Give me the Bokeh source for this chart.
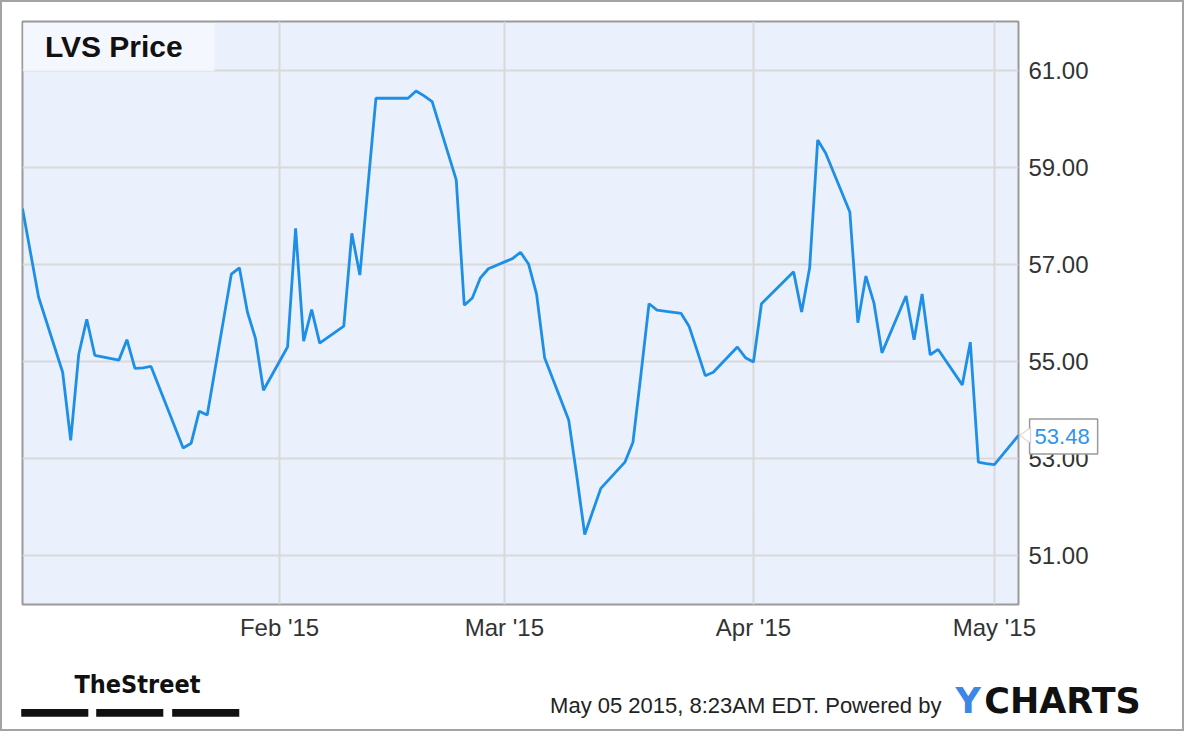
import pandas as pd
from bokeh.plotting import figure
from bokeh.models import (FixedTicker, NumeralTickFormatter, DatetimeTickFormatter,
                          Range1d, Label, BoxAnnotation, PolyAnnotation, GridBox)
from bokeh.embed import file_html
from bokeh.resources import INLINE

# ---------------- data ----------------
dates = [
    "2014-12-31", "2015-01-02", "2015-01-05", "2015-01-06", "2015-01-07", "2015-01-08",
    "2015-01-09", "2015-01-12", "2015-01-13", "2015-01-14", "2015-01-15", "2015-01-16",
    "2015-01-20", "2015-01-21", "2015-01-22", "2015-01-23", "2015-01-26", "2015-01-27",
    "2015-01-28", "2015-01-29", "2015-01-30", "2015-02-02", "2015-02-03", "2015-02-04",
    "2015-02-05", "2015-02-06", "2015-02-09", "2015-02-10", "2015-02-11", "2015-02-12",
    "2015-02-13", "2015-02-17", "2015-02-18", "2015-02-19", "2015-02-20", "2015-02-23",
    "2015-02-24", "2015-02-25", "2015-02-26", "2015-02-27", "2015-03-02", "2015-03-03",
    "2015-03-04", "2015-03-05", "2015-03-06", "2015-03-09", "2015-03-10", "2015-03-11",
    "2015-03-12", "2015-03-13", "2015-03-16", "2015-03-17", "2015-03-18", "2015-03-19",
    "2015-03-20", "2015-03-23", "2015-03-24", "2015-03-25", "2015-03-26", "2015-03-27",
    "2015-03-30", "2015-03-31", "2015-04-01", "2015-04-02", "2015-04-06", "2015-04-07",
    "2015-04-08", "2015-04-09", "2015-04-10", "2015-04-13", "2015-04-14", "2015-04-15",
    "2015-04-16", "2015-04-17", "2015-04-20", "2015-04-21", "2015-04-22", "2015-04-23",
    "2015-04-24", "2015-04-27", "2015-04-28", "2015-04-29", "2015-04-30", "2015-05-01",
    "2015-05-04",
]
prices = [
    58.15, 56.33, 54.78, 53.38, 55.15, 55.87,
    55.13, 55.03, 55.45, 54.86, 54.87, 54.90,
    53.22, 53.32, 53.98, 53.90, 56.80, 56.93,
    56.02, 55.48, 54.41, 55.30, 57.74, 55.42,
    56.07, 55.38, 55.73, 57.64, 56.78, 58.60,
    60.42, 60.42, 60.57, 60.47, 60.35, 58.74,
    56.16, 56.31, 56.72, 56.91, 57.12, 57.25,
    57.01, 56.39, 55.08, 53.80, 52.65, 51.44,
    51.92, 52.39, 52.93, 53.34, 54.74, 56.19,
    56.06, 55.99, 55.72, 55.22, 54.71, 54.78,
    55.30, 55.08, 54.99, 56.19, 56.85, 56.02,
    56.93, 59.56, 59.29, 58.08, 55.80, 56.76,
    56.21, 55.18, 56.35, 55.45, 56.39, 55.14,
    55.25, 54.52, 55.40, 52.93, 52.90, 52.88,
    53.48,
]
x_tick_dates = ["2015-02-01", "2015-03-01", "2015-04-01", "2015-05-01"]
x_tick_labels = ["Feb '15", "Mar '15", "Apr '15", "May '15"]
y_ticks = [51, 53, 55, 57, 59, 61]
y_lo, y_hi = 50, 62

title_text = "LVS Price"
footer_text = "May 05 2015, 8:23AM EDT.  Powered by"
brand_a, brand_b = "Y", "CHARTS"
logo_text = "TheStreet"

W, H = 1184, 731
TXT = "Liberation Sans"

# ---------------- main chart ----------------
dt = pd.to_datetime(dates)
p = figure(
    width=W, height=H,
    x_axis_type="datetime", y_axis_location="right",
    x_range=Range1d(dt[0], dt[-1]), y_range=Range1d(y_lo, y_hi),
    output_backend="svg", toolbar_location=None,
    min_border_left=22, min_border_top=21, min_border_right=166, min_border_bottom=127,
)
p.frame_align = False
p.background_fill_color = "#eaf0fc"
p.border_fill_color = "white"
p.outline_line_color = "#9a9a9a"
p.outline_line_width = 2

x_tick_ms = [pd.Timestamp(d).value / 1e6 for d in x_tick_dates]
p.xaxis.ticker = FixedTicker(ticks=x_tick_ms)
p.xaxis.formatter = DatetimeTickFormatter(days="%b '%y", months="%b '%y", years="%b '%y")
p.xaxis.major_label_overrides = {t: l for t, l in zip(x_tick_ms, x_tick_labels)}
p.yaxis.ticker = FixedTicker(ticks=y_ticks)
p.yaxis.formatter = NumeralTickFormatter(format="0.00")
for ax, st in ((p.xaxis, 9), (p.yaxis, 10)):
    ax.axis_line_color = None
    ax.major_tick_line_color = None
    ax.minor_tick_line_color = None
    ax.major_tick_out = 0
    ax.major_label_standoff = st
    ax.major_label_text_font = TXT
    ax.major_label_text_font_size = "24px"
    ax.major_label_text_color = "#333333"

p.xgrid.ticker = FixedTicker(ticks=x_tick_ms)
p.ygrid.ticker = FixedTicker(ticks=y_ticks)
for g in (p.xgrid, p.ygrid):
    g.grid_line_color = "#d9d9d9"
    g.grid_line_width = 2

p.line(dt, prices, line_color="#1e8fe6", line_width=2.8)

# ---------------- overlay for the decorations (reference-pixel space) ----------------
ov = figure(
    width=W, height=H, x_range=Range1d(0, 1200), y_range=Range1d(747, 0),
    output_backend="svg", toolbar_location=None, min_border=0,
    x_axis_location=None, y_axis_location=None,
)
ov.frame_align = False
ov.background_fill_color = None
ov.border_fill_color = None
ov.outline_line_color = "#a3a3a3"
ov.outline_line_width = 3
ov.grid.visible = False

# title box
ov.add_layout(BoxAnnotation(left=23, right=217, top=23, bottom=72,
                            fill_color="#f6f9fe", fill_alpha=0.8, line_color=None))
ov.add_layout(Label(x=45, y=47, text=title_text, text_font=TXT,
                    text_font_style="bold", text_font_size="30px",
                    text_color="#111111", text_baseline="middle"))

# last value callout
last_y = 22 + (y_hi - prices[-1]) * 595 / (y_hi - y_lo)
ov.add_layout(Label(x=1043, y=last_y + 1, text=f"{prices[-1]:.2f}", text_font=TXT,
                    text_font_size="22px", text_color="#2f95ea", text_baseline="middle",
                    background_fill_color="white", border_line_color="#9a9a9a",
                    border_line_width=1.5,
                    padding=dict(left=5, right=8, top=10, bottom=10)))
ov.add_layout(PolyAnnotation(xs=[1033, 1044, 1044], ys=[last_y, last_y - 8, last_y + 8],
                             fill_color="white", fill_alpha=1,
                             line_color="#9a9a9a", line_width=1.5))

# TheStreet logo
ov.add_layout(Label(x=75, y=699, text=logo_text, text_font="DejaVu Sans Condensed",
                    text_font_style="bold", text_font_size="25px",
                    text_color="#111111", text_baseline="middle"))
for a, b in [(21, 89), (97, 165), (174, 242)]:
    ov.add_layout(BoxAnnotation(left=a, right=b, top=724, bottom=732,
                                fill_color="#111111", fill_alpha=1, line_color=None))

# footer
ov.add_layout(Label(x=557, y=720, text=footer_text, text_font=TXT,
                    text_font_size="22px", text_color="#222222",
                    text_baseline="middle"))
ov.add_layout(Label(x=968, y=716, text=brand_a, text_font="DejaVu Sans",
                    text_font_style="bold", text_font_size="35px",
                    text_color="#3d86e6", text_baseline="middle"))
ov.add_layout(Label(x=997, y=716, text=brand_b, text_font="DejaVu Sans",
                    text_font_style="bold", text_font_size="35px",
                    text_color="#111111", text_baseline="middle"))

layout = GridBox(children=[(p, 0, 0), (ov, 0, 0)])
open("out.html", "w").write(file_html(layout, INLINE))
